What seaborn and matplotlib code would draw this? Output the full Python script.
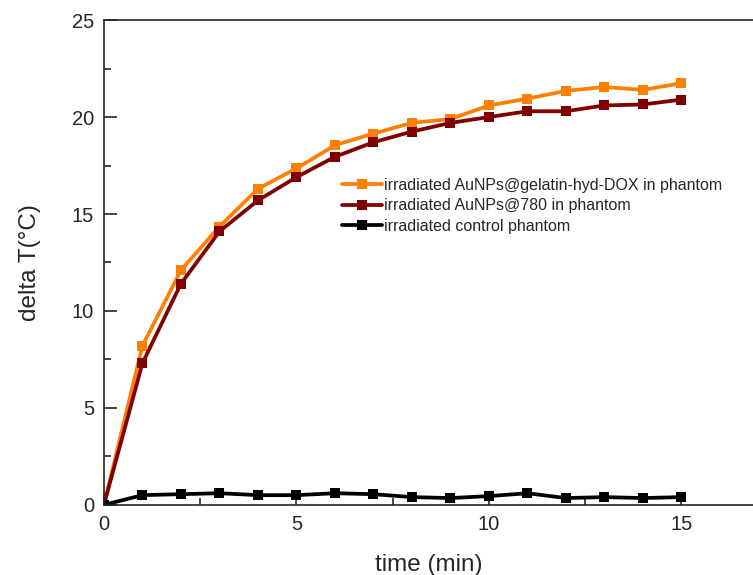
import pandas as pd
import matplotlib.pyplot as plt
import seaborn as sns
from matplotlib.ticker import MultipleLocator

# data
time_min = list(range(16))
dox_phantom = [0, 8.2, 12.1, 14.35, 16.3, 17.35, 18.55, 19.15, 19.7, 19.9,
               20.6, 20.95, 21.35, 21.55, 21.4, 21.75]
au780_phantom = [0, 7.3, 11.4, 14.1, 15.7, 16.9, 17.95, 18.7, 19.25, 19.7,
                 20.0, 20.3, 20.3, 20.6, 20.65, 20.9]
control_phantom = [0, 0.5, 0.55, 0.6, 0.5, 0.5, 0.6, 0.55, 0.4, 0.35,
                   0.45, 0.6, 0.35, 0.4, 0.35, 0.4]

series_names = ['irradiated AuNPs@gelatin-hyd-DOX in phantom',
                'irradiated AuNPs@780 in phantom',
                'irradiated control phantom']
series_colors = ['#FF8000', '#800000', '#000000']

sns.set_style("ticks")
plt.rcParams['font.family'] = ['Liberation Sans', 'DejaVu Sans']

df = pd.concat([
    pd.DataFrame({'time': time_min, 'dT': vals, 'sample': name})
    for name, vals in zip(series_names, [dox_phantom, au780_phantom, control_phantom])
])

fig = plt.figure(figsize=(7.53, 5.75), dpi=100)
ax = fig.add_axes([0.138, 0.122, 0.862, 0.843])

sns.lineplot(data=df, x='time', y='dT', hue='sample', hue_order=series_names,
             palette=series_colors, marker='s', markersize=7.5, markeredgewidth=0,
             linewidth=2.7, ax=ax)

ax.set_xlim(0, 16.86)
ax.set_ylim(0, 25)
ax.xaxis.set_major_locator(MultipleLocator(5))
ax.xaxis.set_minor_locator(MultipleLocator(2.5))
ax.yaxis.set_major_locator(MultipleLocator(5))
ax.yaxis.set_minor_locator(MultipleLocator(2.5))
ax.tick_params(which='major', direction='in', length=9, width=1.2, labelsize=14.5, pad=7)
ax.tick_params(which='minor', direction='in', length=5, width=1.2)
ax.spines['right'].set_visible(False)
for s in ['left', 'bottom', 'top']:
    ax.spines[s].set_linewidth(1.2)

ax.set_xlabel('time (min)', fontsize=17.5, labelpad=15)
ax.set_ylabel('delta T(°C)', fontsize=17.5, labelpad=22)

ax.legend(loc='upper left', bbox_to_anchor=(0.357, 0.688), frameon=False,
          fontsize=11.5, handlelength=2.5, handletextpad=0.15, labelspacing=0.35,
          borderaxespad=0)

plt.savefig('out.png', dpi=100)
